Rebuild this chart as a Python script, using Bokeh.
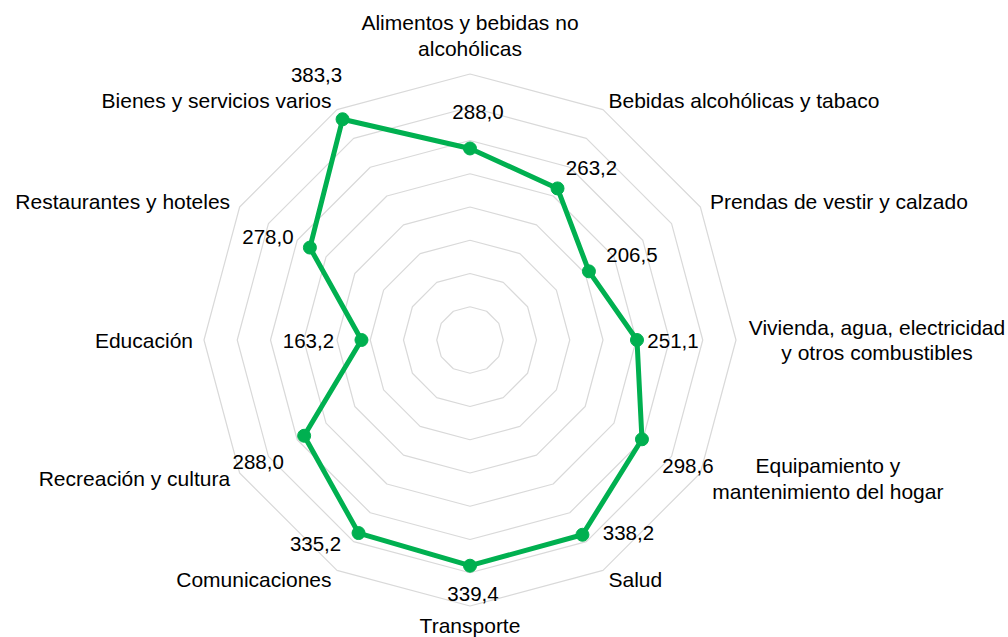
import numpy as np
from bokeh.plotting import figure
from bokeh.models import Range1d, ColumnDataSource
from bokeh.core.properties import value
from bokeh.embed import file_html
from bokeh.resources import INLINE

# ---------------- data ----------------
categories = [
    "Alimentos y bebidas no\nalcohólicas",
    "Bebidas alcohólicas y tabaco",
    "Prendas de vestir y calzado",
    "Vivienda, agua, electricidad\ny otros combustibles",
    "Equipamiento y\nmantenimiento del hogar",
    "Salud",
    "Transporte",
    "Comunicaciones",
    "Recreación y cultura",
    "Educación",
    "Restaurantes y hoteles",
    "Bienes y servicios varios",
]
values = [288.0, 263.2, 206.5, 251.1, 298.6, 338.2, 339.4, 335.2, 288.0, 163.2, 278.0, 383.3]
ring_levels = [50, 100, 150, 200, 250, 300, 350, 400]

# ---------------- styling / layout ----------------
FONT = "Liberation Sans"
GREEN = "#00b050"
GRID = "#d9d9d9"
W, H = 1008, 637
PX_PER_UNIT = 266.0 / 400.0
CX, CY = 469.5, 339.5  # centre in canvas pixels

# data-label pixel offsets (label centre relative to the point)
label_dx = [8, 34, 43, 36, 46, 46, 3, -43, -46, -53, -42, -26]
label_dy = [-36, -20, -16, 1, 27, -2, 28, 11, 26, 1, -11, -44]

n = len(categories)
theta = np.pi / 2 - np.arange(n) * 2 * np.pi / n

p = figure(
    width=W, height=H,
    x_range=Range1d(-CX / PX_PER_UNIT, (W - CX) / PX_PER_UNIT),
    y_range=Range1d(-(H - CY) / PX_PER_UNIT, CY / PX_PER_UNIT),
    x_axis_type=None, y_axis_type=None,
    toolbar_location=None, output_backend="svg",
    min_border=0, outline_line_color=None,
    background_fill_color="white", border_fill_color="white",
)
p.grid.visible = False

# rings
xs, ys = [], []
for lv in ring_levels:
    xx = list(lv * np.cos(theta)) + [lv * np.cos(theta[0])]
    yy = list(lv * np.sin(theta)) + [lv * np.sin(theta[0])]
    xs.append(xx)
    ys.append(yy)
p.multi_line(xs, ys, line_color=GRID, line_width=1.2)

# data series
vals = np.array(values)
px = vals * np.cos(theta)
py = vals * np.sin(theta)
p.line(list(px) + [px[0]], list(py) + [py[0]], line_color=GREEN, line_width=5,
       line_join="round")
p.scatter(px, py, size=13, fill_color=GREEN, line_color=GREEN)

# data labels
lab = [f"{v:.1f}".replace(".", ",") for v in values]
src = ColumnDataSource(dict(x=px, y=py, t=lab, dx=label_dx, dy=label_dy))
p.text("x", "y", text="t", source=src, x_offset="dx", y_offset="dy",
       text_align="center", text_baseline="middle",
       text_font=value(FONT), text_font_size="20.5px", text_color="black")

# category labels
R_LAB = 277.0 / PX_PER_UNIT
cx_, cy_, al, bl, ox, oy = [], [], [], [], [], []
for i, th in enumerate(theta):
    c, s = np.cos(th), np.sin(th)
    cx_.append(R_LAB * c)
    cy_.append(R_LAB * s)
    if abs(c) < 0.01:
        al.append("center")
        bl.append("bottom" if s > 0 else "top")
        ox.append(0)
        oy.append(-3 if s > 0 else -3)
    else:
        bl.append("middle")
        oy.append(0)
        if "\n" in categories[i] and c > 0:
            al.append("center")
            ox.append(130 if abs(s) < 0.01 else 118)
        else:
            al.append("left" if c > 0 else "right")
            ox.append(0)

src2 = ColumnDataSource(dict(x=cx_, y=cy_, t=categories, al=al, bl=bl, ox=ox, oy=oy))
p.text("x", "y", text="t", source=src2, text_align="al", text_baseline="bl",
       x_offset="ox", y_offset="oy", text_line_height=1.12,
       text_font=value(FONT), text_font_size="21px", text_color="black")

open("out.html", "w").write(file_html(p, INLINE))
